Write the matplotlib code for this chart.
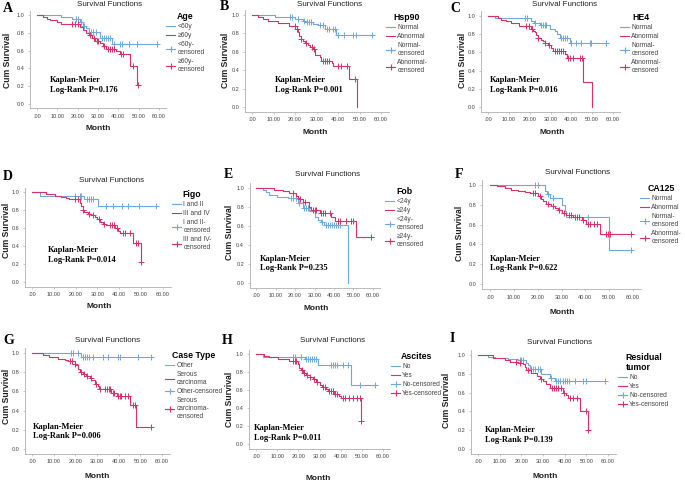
import numpy as np
import matplotlib
matplotlib.use('Agg')
from matplotlib import pyplot as plt
from matplotlib.lines import Line2D

W, H = 685, 482
BLUE = '#6fa8dc'
RED = '#d9306a'
AXC = '#b0b0b0'
TXC = '#444444'

# ---- data: event times (months), survival after event, censor times ----
a_blue_t = [12, 17, 21, 22.5, 24, 25.5, 31, 37]
a_blue_s = [0.98, 0.96, 0.92, 0.88, 0.85, 0.81, 0.74, 0.67]
a_blue_c = [19, 20, 21.5, 23, 26.5, 27.5, 29, 32, 33, 34, 35, 36, 38, 41, 42, 45, 49, 59]
a_red_t = [3, 5, 6.5, 10, 12, 21, 22.5, 24, 25.5, 27, 28.5, 31, 32.5, 34, 39, 41, 45.5, 49]
a_red_s = [0.98, 0.96, 0.94, 0.92, 0.90, 0.86, 0.83, 0.80, 0.77, 0.74, 0.71, 0.68, 0.65, 0.62, 0.59, 0.56, 0.43, 0.21]
a_red_c = [17, 18.5, 20, 26, 28, 29.5, 30, 33, 35, 36, 37, 38, 41.5, 42.5, 47, 49.8]

b_blue_t = [10.5, 20, 23.5, 24.5, 28.5, 30.5, 34, 39.3]
b_blue_s = [0.98, 0.96, 0.94, 0.92, 0.90, 0.89, 0.85, 0.78]
b_blue_c = [17.5, 18.5, 21.5, 24, 25.5, 26.5, 27.5, 31.5, 33, 35, 36, 37.5, 38.5, 40, 43, 47, 48.5, 56]
b_red_t = [3, 5, 7.5, 12, 17, 20.7, 21.5, 22, 22.8, 23.5, 24.6, 26, 27.2, 28.5, 29.5, 31.5, 32.3, 37, 37.8, 45, 49]
b_red_s = [0.98, 0.96, 0.93, 0.91, 0.88, 0.85, 0.82, 0.77, 0.74, 0.72, 0.70, 0.67, 0.65, 0.63, 0.57, 0.54, 0.50, 0.48, 0.45, 0.30, 0.0]
b_red_c = [20, 21, 23, 25, 28, 29, 33, 34, 35, 36, 40, 41.5, 44, 48]

c_blue_t = [3.2, 20.8, 22, 24.8, 29.6, 32, 33, 34.4, 39.2]
c_blue_s = [0.98, 0.95, 0.92, 0.90, 0.86, 0.84, 0.80, 0.76, 0.70]
c_blue_c = [17.6, 18.5, 22.4, 25.5, 26.5, 27.5, 28, 35, 36, 37, 38, 40, 42.4, 44.5, 48.8, 49.6, 56.8]
c_red_t = [4.8, 6.4, 8.8, 11, 15, 20.8, 21.6, 22.4, 23.2, 24, 25.3, 26.4, 27.2, 28.8, 30, 31, 36.8, 38, 45.6, 50]
c_red_s = [0.98, 0.96, 0.94, 0.92, 0.89, 0.86, 0.84, 0.82, 0.79, 0.76, 0.74, 0.72, 0.70, 0.68, 0.65, 0.62, 0.58, 0.54, 0.27, 0.0]
c_red_c = [18, 19.5, 21, 24.2, 27.5, 29.5, 32, 33, 34, 35, 36, 38.5, 39.5, 41, 44, 45]

d_blue_t = [3.5, 24, 30.2]
d_blue_s = [0.96, 0.92, 0.85]
d_blue_c = [19.5, 21.8, 22.6, 25, 26, 27, 28, 34, 37, 41, 44, 49, 57]
d_red_t = [6.6, 10.4, 13.4, 15.7, 17, 21.8, 22.5, 23.2, 24, 25.6, 27.2, 28.7, 29.8, 31, 32.5, 34, 37.9, 39.4, 40.5, 46.3, 50]
d_red_s = [0.98, 0.96, 0.95, 0.93, 0.92, 0.88, 0.84, 0.80, 0.78, 0.76, 0.74, 0.72, 0.70, 0.67, 0.65, 0.63, 0.60, 0.57, 0.54, 0.43, 0.22]
d_red_c = [19.5, 21, 23.5, 26, 28, 30.5, 33, 35.5, 36.5, 37.5, 39, 41.5, 42.5, 45, 47.5, 48.5, 50]

e_blue_t = [3.4, 5, 6.9, 11, 16.3, 21.4, 24, 27.4, 30, 31.7, 33.4, 35, 47]
e_blue_s = [0.98, 0.96, 0.93, 0.91, 0.89, 0.84, 0.79, 0.76, 0.70, 0.66, 0.64, 0.61, 0.0]
e_blue_c = [18, 19, 20.6, 22, 24.5, 25.5, 26.6, 34, 36, 37, 38, 39, 40, 41, 42, 43]
e_red_t = [9.4, 13.7, 17, 20.6, 21.5, 22.3, 24, 27.4, 28.3, 32.6, 38.6, 40.3, 51.5]
e_red_s = [0.98, 0.97, 0.95, 0.92, 0.90, 0.88, 0.85, 0.80, 0.77, 0.74, 0.69, 0.65, 0.48]
e_red_c = [18.9, 22.8, 25, 29, 30, 31, 33.5, 34.5, 35.5, 37.7, 42, 43, 46, 48.5, 49.7, 59]

f_blue_t = [23, 24.1, 25, 30, 31.4, 32, 49.8]
f_blue_s = [0.94, 0.91, 0.87, 0.80, 0.74, 0.68, 0.34]
f_blue_c = [18.8, 20.2, 24.5, 26.5, 41, 59]
f_red_t = [2.8, 6.3, 9, 11.9, 14.6, 16.7, 20.2, 21.5, 22.3, 23.7, 25.8, 27.2, 28.6, 30, 32, 34.9, 38.4, 40.4, 46]
f_red_s = [0.99, 0.97, 0.95, 0.94, 0.93, 0.92, 0.89, 0.86, 0.84, 0.81, 0.79, 0.77, 0.75, 0.72, 0.70, 0.68, 0.65, 0.61, 0.51]
f_red_c = [18, 19, 21, 24.5, 26.5, 29, 31, 33, 34, 35.5, 36.5, 37.5, 39, 41, 42, 43.5, 45, 48.8, 49.5, 50.2, 59]

g_blue_t = [22.8]
g_blue_s = [0.955]
g_blue_c = [18, 19, 21.2, 23.5, 24.5, 25.5, 26.5, 28, 32.8, 35, 39.7, 40.5, 49, 55]
g_red_t = [5, 8, 12, 15, 16.6, 19.7, 20.5, 21.2, 22, 23.5, 25, 26.6, 27.4, 28.9, 30.5, 31, 32.8, 36.6, 39, 45, 48]
g_red_s = [0.98, 0.96, 0.94, 0.93, 0.92, 0.89, 0.87, 0.83, 0.80, 0.78, 0.76, 0.74, 0.72, 0.68, 0.66, 0.63, 0.62, 0.58, 0.55, 0.46, 0.23]
g_red_c = [17.5, 18.5, 20, 22.5, 24, 25.5, 27, 29.5, 31.5, 33.5, 34.5, 35.5, 36, 37.5, 38, 39.5, 40.5, 41, 43, 44.5, 46.6, 47.4, 55]

h_blue_t = [3.2, 23, 29.2, 45]
h_blue_s = [0.97, 0.94, 0.88, 0.66]
h_blue_c = [17.4, 18.2, 21.3, 23.7, 24.5, 25.5, 26.5, 27.5, 28.4, 35.5, 36.5, 37.5, 38.5, 41, 43.4, 49, 56]
h_red_t = [4, 6.3, 10.3, 13.4, 15.8, 19.7, 20.5, 21.3, 22, 23.7, 25.3, 26.8, 28.4, 30, 31, 33.2, 34, 37, 39.2, 40.3, 49.5]
h_red_s = [0.98, 0.97, 0.95, 0.94, 0.92, 0.89, 0.85, 0.82, 0.79, 0.77, 0.75, 0.72, 0.69, 0.66, 0.63, 0.61, 0.59, 0.56, 0.53, 0.51, 0.26]
h_red_c = [17.4, 18.2, 19, 21.5, 22.5, 24, 25.5, 27.5, 29, 31.5, 32.5, 34.5, 35.5, 36.5, 37.5, 38.5, 41, 42, 44, 46, 47.5, 49, 49.7]

i_blue_t = [4.6, 7.7, 13.8, 18.5, 22.3, 23, 23.8, 29.2, 33, 35.4]
i_blue_s = [0.98, 0.97, 0.96, 0.95, 0.92, 0.89, 0.85, 0.80, 0.76, 0.72]
i_blue_c = [19.2, 20, 20.8, 24.5, 25.5, 26.5, 27.5, 28.5, 33.8, 36, 37, 38, 39, 40, 41, 42, 44.6, 48.5, 50, 58.5]
i_red_t = [6.9, 12.3, 14.6, 18.5, 20.8, 21.5, 22.3, 24.6, 27, 28.5, 30, 31.5, 33, 39.2, 40.8, 41.5, 47, 50.8]
i_red_s = [0.97, 0.95, 0.93, 0.92, 0.90, 0.87, 0.84, 0.81, 0.78, 0.75, 0.72, 0.69, 0.65, 0.60, 0.57, 0.54, 0.40, 0.20]
i_red_c = [17.5, 19.5, 23, 29, 34, 35, 36, 37, 38.5, 39.8, 42.5, 44, 45.5, 50, 50.8]

letters = ['A', 'B', 'C', 'D', 'E', 'F', 'G', 'H', 'I']
factors = ['Age', 'Hsp90', 'HE4', 'Figo', 'Fob', 'CA125', 'Case Type', 'Ascites', 'Residual\ntumor']
p_values = ['0.176', '0.001', '0.016', '0.014', '0.235', '0.622', '0.006', '0.011', '0.139']
group_labels = [
    ['<60y', '\u226560y', '<60y-\ncensored', '\u226560y-\ncensored'],
    ['Normal', 'Abnormal', 'Normal-\ncensored', 'Abnormal-\ncensored'],
    ['Normal', 'Abnormal', 'Normal-\ncensored', 'Abnormal-\ncensored'],
    ['I and II', 'III and IV', 'I and II-\ncensored', 'III and IV-\ncensored'],
    ['<24y', '\u226524y', '<24y-\ncensored', '\u226524y-\ncensored'],
    ['Normal', 'Abnormal', 'Normal-\ncensored', 'Abnormal-\ncensored'],
    ['Other', 'Serous\ncarcinoma', 'Other-censored', 'Serous\ncarcinoma-\ncensored'],
    ['No', 'Yes', 'No-censored', 'Yes-censored'],
    ['No', 'Yes', 'No-censored', 'Yes-censored'],
]
curves = [
    (a_blue_t, a_blue_s, a_blue_c, a_red_t, a_red_s, a_red_c),
    (b_blue_t, b_blue_s, b_blue_c, b_red_t, b_red_s, b_red_c),
    (c_blue_t, c_blue_s, c_blue_c, c_red_t, c_red_s, c_red_c),
    (d_blue_t, d_blue_s, d_blue_c, d_red_t, d_red_s, d_red_c),
    (e_blue_t, e_blue_s, e_blue_c, e_red_t, e_red_s, e_red_c),
    (f_blue_t, f_blue_s, f_blue_c, f_red_t, f_red_s, f_red_c),
    (g_blue_t, g_blue_s, g_blue_c, g_red_t, g_red_s, g_red_c),
    (h_blue_t, h_blue_s, h_blue_c, h_red_t, h_red_s, h_red_c),
    (i_blue_t, i_blue_s, i_blue_c, i_red_t, i_red_s, i_red_c),
]

# ---- layout in pixels: (x of .00, x of 60.00, y of 1.0, y of 0.0) and text spots ----
layout = [
    dict(ax=(37, 159, 15, 104), let=(3, 8), tit=(110, 5), mon=(98, 128), ylab=(8, 60), km=(50, 80), leg=(166, 12)),
    dict(ax=(252, 381, 15, 107), let=(220, 7), tit=(330, 4), mon=(315, 132), ylab=(225, 60), km=(275, 80), leg=(386, 13)),
    dict(ax=(488, 613, 16, 107), let=(450, 8), tit=(565, 5), mon=(552, 132), ylab=(462, 60), km=(490, 80), leg=(620, 13)),
    dict(ax=(32, 163, 192, 282), let=(3, 177), tit=(112, 180), mon=(99, 306), ylab=(7, 230), km=(48, 250), leg=(172, 190)),
    dict(ax=(256, 373, 188, 283), let=(224, 175), tit=(328, 175), mon=(316, 309), ylab=(230, 232), km=(260, 259), leg=(385, 187)),
    dict(ax=(490, 633, 185, 284), let=(455, 175), tit=(578, 173), mon=(562, 312), ylab=(460, 233), km=(490, 259), leg=(640, 184)),
    dict(ax=(32, 162, 353, 449), let=(3, 340), tit=(108, 340), mon=(97, 477), ylab=(7, 396), km=(33, 427), leg=(165, 351)),
    dict(ax=(256, 383, 354, 444), let=(222, 340), tit=(333, 340), mon=(318, 479), ylab=(229, 399), km=(254, 428), leg=(391, 352)),
    dict(ax=(478, 608, 355, 449), let=(450, 338), tit=(560, 342), mon=(545, 477), ylab=(447, 400), km=(485, 430), leg=(618, 353)),
]

XL = (-3.3, 63.5)
YL = (-0.05, 1.05)


def fx(px):
    return px / W


def fy(py):
    return 1 - py / H


def km_steps(t, s, c):
    end = max(max(t), max(c))
    tt = np.r_[0.0, t, end]
    ss = np.r_[1.0, s, s[-1]]
    idx = np.searchsorted(tt, c, side='right') - 1
    return tt, ss, ss[idx]


fig = plt.figure(figsize=(W / 100, H / 100), dpi=100)
sans = 'Liberation Sans'
serif = 'Liberation Serif'

for k in range(9):
    L = layout[k]
    x0, x60, y1, y0 = L['ax']
    kx = (x60 - x0) / 60.0
    ky = (y0 - y1)
    left = x0 + XL[0] * kx
    right = x0 + XL[1] * kx
    top = y1 - (YL[1] - 1) * ky
    bottom = y0 - YL[0] * ky
    ax = fig.add_axes([fx(left), fy(bottom), (right - left) / W, (bottom - top) / H])

    bt, bs, bc, rt, rs, rc = curves[k]
    for t, s, c, col in [(bt, bs, bc, BLUE), (rt, rs, rc, RED)]:
        tt, ss, cy = km_steps(t, s, c)
        ax.step(tt, ss, where='post', color=col, lw=0.8)
        ax.plot(c, cy, ls='none', marker='+', color=col, ms=4.5, mew=0.7)

    ax.set_xlim(*XL)
    ax.set_ylim(*YL)
    ax.set_xticks(np.arange(0, 61, 10))
    ax.set_xticklabels(['.00'] + ['%d.00' % v for v in range(10, 61, 10)])
    ax.set_yticks(np.arange(0, 1.01, 0.2))
    ax.set_yticklabels(['%.1f' % v for v in np.arange(0, 1.01, 0.2)])
    ax.tick_params(labelsize=4.0, length=1.5, width=0.5, color=AXC, labelcolor=TXC, pad=2.5)
    for lab in ax.get_xticklabels() + ax.get_yticklabels():
        lab.set_family(sans)
    for sp in ['top', 'right']:
        ax.spines[sp].set_visible(False)
    for sp in ['left', 'bottom']:
        ax.spines[sp].set_color(AXC)
        ax.spines[sp].set_linewidth(0.6)
    ax.patch.set_alpha(0)

    handles = [Line2D([], [], color=BLUE, lw=0.8),
               Line2D([], [], color=RED, lw=0.8),
               Line2D([], [], color=BLUE, lw=0.8, marker='+', ms=5, mew=0.8),
               Line2D([], [], color=RED, lw=0.8, marker='+', ms=5, mew=0.8)]
    lx, ly = L['leg']
    leg = ax.legend(handles, group_labels[k], title=factors[k], loc='upper left',
                    bbox_to_anchor=(fx(lx), fy(ly)), bbox_transform=fig.transFigure,
                    frameon=False, handlelength=1.4, handletextpad=0.3,
                    labelspacing=0.3, borderpad=0, borderaxespad=0,
                    prop={'family': sans, 'size': 4.8},
                    title_fontproperties={'family': sans, 'size': 6.3, 'weight': 'bold'})
    for txt in leg.get_texts():
        txt.set_color(TXC)
    leg.set_clip_on(False)

    fig.text(fx(L['let'][0]), fy(L['let'][1]), letters[k], family=serif, weight='bold',
             fontsize=10, ha='left', va='center')
    fig.text(fx(L['tit'][0]), fy(L['tit'][1]), 'Survival Functions', family=sans,
             fontsize=5.8, ha='center', va='center', color='#222222')
    fig.text(fx(L['mon'][0]), fy(L['mon'][1]), 'Month', family=sans, weight='bold',
             fontsize=6.0, ha='center', va='center', color='#222222')
    fig.text(fx(L['ylab'][0]), fy(L['ylab'][1]), 'Cum Survival', family=sans, weight='bold',
             fontsize=6.2, ha='center', va='center', rotation=90, color='#222222')
    kx_, ky_ = L['km']
    fig.text(fx(kx_), fy(ky_), 'Kaplan-Meier', family=serif, weight='bold',
             fontsize=6, ha='left', va='center')
    fig.text(fx(kx_), fy(ky_ + 9.5), 'Log-Rank P=' + p_values[k], family=serif, weight='bold',
             fontsize=6, ha='left', va='center')

fig.savefig('out.png', dpi=100)
